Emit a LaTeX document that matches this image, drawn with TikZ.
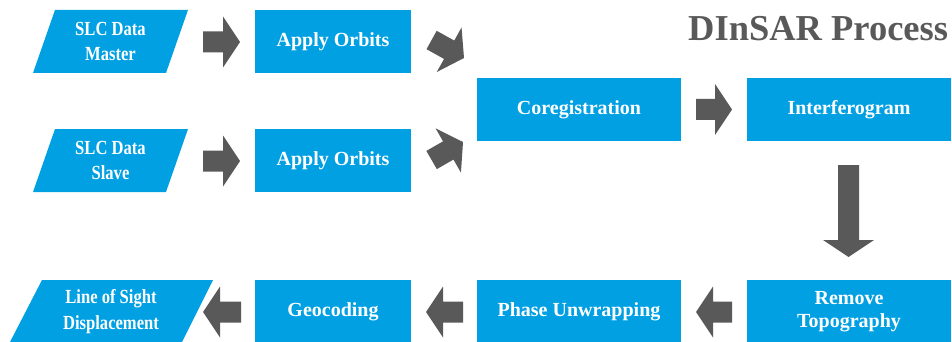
\documentclass[tikz,border=0pt]{standalone}
\usepackage{fontspec}
\setmainfont{Liberation Serif}
\newfontfamily\condfont{Liberation Serif}[FakeStretch=0.83]
\usetikzlibrary{calc}
\definecolor{boxblue}{RGB}{0,160,227}
\definecolor{arrgray}{RGB}{89,89,89}
\newcommand{\blockarrow}[2]{%
  \path coordinate (bah) at ($(#2)!17pt!(#1)$);
  \fill[arrgray] ($(#1)!10.5pt!90:(#2)$) -- ($(bah)!10.5pt!90:(#2)$) --
    ($(bah)!25.5pt!90:(#2)$) -- (#2) -- ($(bah)!25.5pt!-90:(#2)$) --
    ($(bah)!10.5pt!-90:(#2)$) -- ($(#1)!10.5pt!-90:(#2)$) -- cycle;
}
\tikzset{
  box/.style={fill=boxblue, text=white, inner sep=0pt, minimum height=63pt,
    align=center, font=\bfseries\fontsize{20}{23}\selectfont},
  ptext/.style={text=white, inner sep=0pt, align=center,
    font=\condfont\bfseries\fontsize{20}{25}\selectfont},
  pshape/.style={fill=boxblue},
}
\begin{document}
\begin{tikzpicture}[x=1pt,y=-1pt]
\useasboundingbox (0,0) rectangle (952,342);
% parallelograms
\fill[boxblue] (55,10) -- (188,10) -- (166,73) -- (33,73) -- cycle;
\node[ptext] (master) at (110.5,41.5) {SLC Data\\Master};
\fill[boxblue] (55,129) -- (188,129) -- (166,192) -- (33,192) -- cycle;
\node[ptext] (slave) at (110.5,160.5) {SLC Data\\Slave};
\fill[boxblue] (42,280) -- (213,280) -- (181.5,343) -- (9.5,343) -- cycle;
\node[ptext, font=\condfont\bfseries\fontsize{20}{26}\selectfont] (los) at (111,312) {Line of Sight\\Displacement};
% boxes
\node[box, minimum width=156pt] (ao1) at (333,41.5) {Apply Orbits};
\node[box, minimum width=156pt] (ao2) at (333,160.5) {Apply Orbits};
\node[box, minimum width=204pt] (coreg) at (579,109.5) {Coregistration};
\node[box, minimum width=204pt] (interf) at (849,109.5) {Interferogram};
\node[box, minimum width=204pt] (remtopo) at (849,311.5) {Remove\\Topography};
\node[box, minimum width=204pt] (phase) at (579,311.5) {Phase Unwrapping};
\node[box, minimum width=156pt] (geo) at (333,311.5) {Geocoding};
% title
\node[anchor=base west, inner sep=0pt, text=arrgray, font=\bfseries\fontsize{36.5}{40}\selectfont] (title) at (688,41) {DInSAR Process};
% arrow end points
\coordinate (a1s) at (203,42);    \coordinate (a1t) at (240,42);
\coordinate (a2s) at (203,161);   \coordinate (a2t) at (240,161);
\coordinate (d1s) at (431.6,40);  \coordinate (d1t) at (464,58);
\coordinate (d2s) at (431.6,160); \coordinate (d2t) at (463,142);
\coordinate (a3s) at (696,109.5); \coordinate (a3t) at (732,109.5);
\coordinate (dns) at (848.5,165); \coordinate (dnt) at (848.5,257);
\coordinate (l1s) at (732,312);   \coordinate (l1t) at (696,312);
\coordinate (l2s) at (463,312);   \coordinate (l2t) at (426,312);
\coordinate (l3s) at (241,312);   \coordinate (l3t) at (203,312);
\blockarrow{a1s}{a1t}
\blockarrow{a2s}{a2t}
\blockarrow{d1s}{d1t}
\blockarrow{d2s}{d2t}
\blockarrow{a3s}{a3t}
\blockarrow{dns}{dnt}
\blockarrow{l1s}{l1t}
\blockarrow{l2s}{l2t}
\blockarrow{l3s}{l3t}
\end{tikzpicture}
\end{document}
